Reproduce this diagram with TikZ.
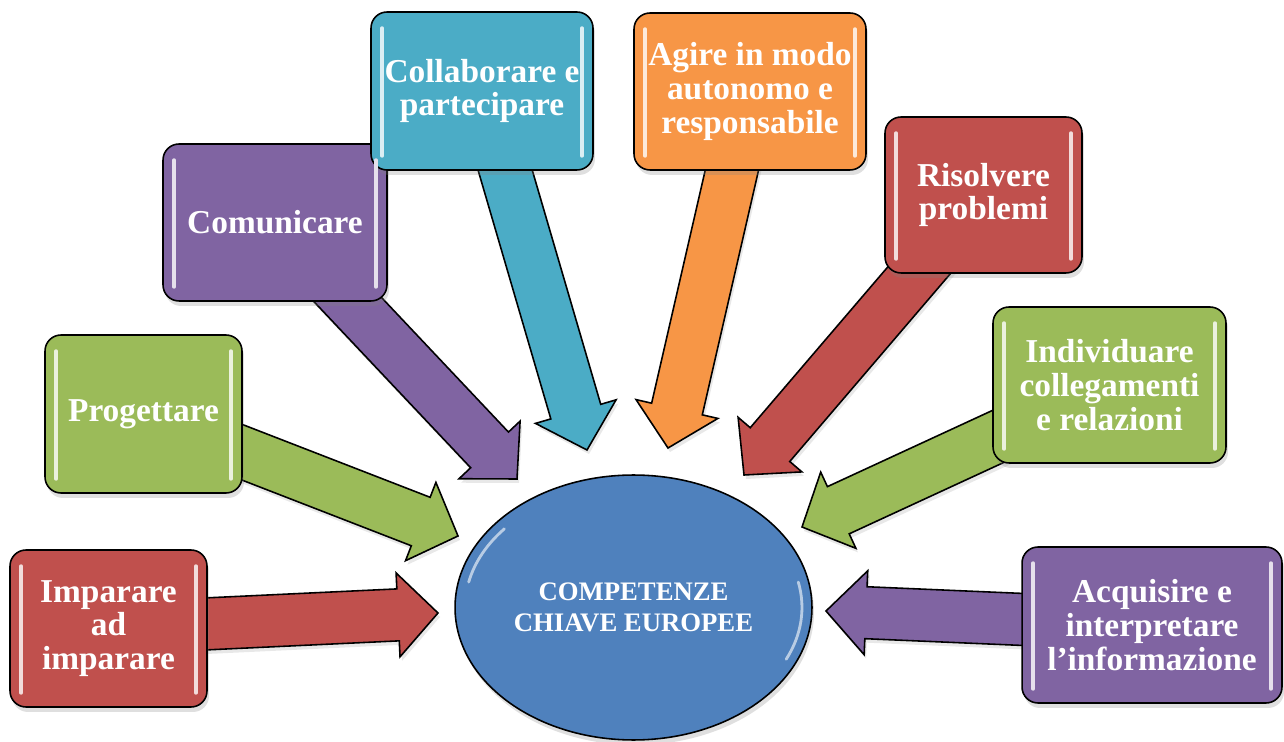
\documentclass[tikz,border=0pt]{standalone}
\usepackage{fontspec}
\setmainfont{Liberation Serif}
\usetikzlibrary{calc,shapes.geometric,shadows}
\definecolor{ored}{HTML}{C0504D}
\definecolor{ogreen}{HTML}{9BBB59}
\definecolor{opurple}{HTML}{8064A2}
\definecolor{oteal}{HTML}{4BACC6}
\definecolor{oorange}{HTML}{F79646}
\definecolor{oblue}{HTML}{4F81BD}
\pgfdeclarelayer{bg}
\pgfsetlayers{bg,main}
\tikzset{
  box/.style={rectangle, rounded corners=0.32cm, draw=black, line width=0.9pt,
    fill=#1, text=white, font=\fontsize{19}{19.2}\selectfont\bfseries,
    align=center, inner sep=0pt,
    drop shadow={opacity=0.25, shadow xshift=0.04cm, shadow yshift=-0.1cm}},
  arrowbody/.style={draw=black, line width=0.9pt, line join=miter, fill=#1,
    drop shadow={opacity=0.18, shadow xshift=0.04cm, shadow yshift=-0.08cm}},
  gloss/.style={line width=2.2pt, line cap=round, draw=#1!20!white},
  hilite/.style={white, opacity=0.6, line width=1.6pt, line cap=round},
  centre/.style={ellipse, draw=black, line width=0.9pt, fill=oblue,
    minimum width=7.14cm, minimum height=5.3cm, inner sep=0pt, text=white,
    font=\fontsize{15.2}{17.8}\selectfont\bfseries, align=center,
    drop shadow={opacity=0.25, shadow xshift=0.04cm, shadow yshift=-0.1cm}}
}
\newcommand\blockarrow[3]{%
  \coordinate (#1h) at ($(#2)!0.8cm!(#1.center)$);
  \path[arrowbody=#3]
    ($(#1.center)!0.52cm!90:(#2)$) -- ($(#1h)!0.52cm!90:(#2)$)
    -- ($(#1h)!0.84cm!90:(#2)$) -- (#2)
    -- ($(#1h)!0.84cm!-90:(#2)$) -- ($(#1h)!0.52cm!-90:(#2)$)
    -- ($(#1.center)!0.52cm!-90:(#2)$) -- cycle;
}
\begin{document}
\begin{tikzpicture}[x=0.02cm, y=-0.02cm]
\useasboundingbox (0,0) rectangle (1284,742);
\begin{pgfonlayer}{bg}
  \fill[white] (0,0) rectangle (1284,742);
\end{pgfonlayer}

% centre
\node[centre] (cen) at (633.5,607.5) {COMPETENZE\\CHIAVE EUROPEE};
\draw[hilite] ($(cen.center)+({3.37cm*cos(140)},{2.45cm*sin(140)})$)
  arc[start angle=140, end angle=168, x radius=3.37cm, y radius=2.45cm];
\draw[hilite] ($(cen.center)+({3.37cm*cos(-25)},{2.45cm*sin(-25)})$)
  arc[start angle=-25, end angle=12, x radius=3.37cm, y radius=2.45cm];

% boxes
\node[box=ored, minimum width=3.94cm, minimum height=3.14cm] (imp) at (108.5,628.5) {Imparare\\ad\\imparare};
\node[box=ogreen, minimum width=3.94cm, minimum height=3.16cm] (prog) at (143.5,414) {Progettare};
\node[box=opurple, minimum width=4.48cm, minimum height=3.14cm] (com) at (275,222.5) {Comunicare};
\node[box=oteal, minimum width=4.44cm, minimum height=3.16cm] (col) at (482,91) {Collaborare e\\partecipare};
\node[box=oorange, minimum width=4.64cm, minimum height=3.14cm] (agi) at (750,91.5) {Agire in modo\\autonomo e\\responsabile};
\node[box=ored, minimum width=3.94cm, minimum height=3.12cm] (ris) at (983.5,195) {Risolvere\\problemi};
\node[box=ogreen, minimum width=4.66cm, minimum height=3.12cm] (ind) at (1109.5,385) {Individuare\\collegamenti\\e relazioni};
\node[box=opurple, minimum width=5.2cm, minimum height=3.12cm] (acq) at (1152,625) {Acquisire e\\interpretare\\l’informazione};

\foreach \n/\c in {imp/ored, prog/ogreen, com/opurple, col/oteal, agi/oorange, ris/ored, ind/ogreen, acq/opurple}{
  \draw[gloss=\c] ([xshift=0.24cm,yshift=-0.34cm]\n.north west) -- ([xshift=0.24cm,yshift=0.3cm]\n.south west);
  \draw[gloss=\c] ([xshift=-0.24cm,yshift=-0.34cm]\n.north east) -- ([xshift=-0.24cm,yshift=0.3cm]\n.south east);
}

% arrow tips
\coordinate (timp) at (438,613);
\coordinate (tprog) at (458,536);
\coordinate (tcom) at (517,479);
\coordinate (tcol) at (587,450);
\coordinate (tagi) at (668,448);
\coordinate (tris) at (744,475);
\coordinate (tind) at (802,527);
\coordinate (tacq) at (826,611);

\begin{pgfonlayer}{bg}
  \blockarrow{imp}{timp}{ored}
  \blockarrow{prog}{tprog}{ogreen}
  \blockarrow{com}{tcom}{opurple}
  \blockarrow{col}{tcol}{oteal}
  \blockarrow{agi}{tagi}{oorange}
  \blockarrow{ris}{tris}{ored}
  \blockarrow{ind}{tind}{ogreen}
  \blockarrow{acq}{tacq}{opurple}
\end{pgfonlayer}
\end{tikzpicture}
\end{document}
